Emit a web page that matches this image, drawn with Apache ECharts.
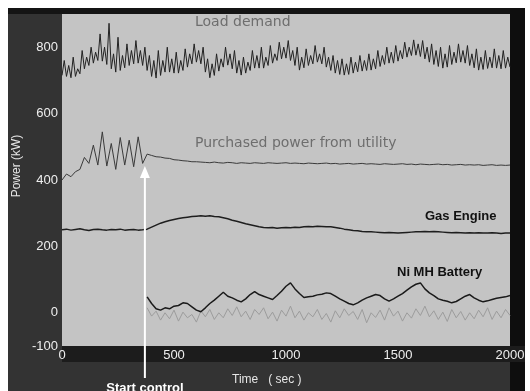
<!DOCTYPE html>
<html>
<head>
<meta charset="utf-8">
<script src="https://cdn.jsdelivr.net/npm/echarts@6/dist/echarts.min.js"></script>
<style>
  html, body { margin: 0; padding: 0; background: #fff; }
  #chart { width: 530px; height: 391px; }
</style>
</head>
<body>
<div id="chart"></div>
<script>
  // time axis (sec)
  const loadStep = 10;
  const stepTwenty = 20;
  const controlStart = 380;     // first sample after control starts
  const startControlTime = 370; // arrow position

  // Load demand, every 10 s from 0 to 2000
  const loadDemand = [
    715, 760, 712, 745, 708, 770, 712, 735, 720, 790, 735, 770, 745, 800, 752, 785, 760, 840, 758, 800,
    748, 872, 735, 780, 725, 830, 730, 775, 738, 810, 745, 790, 750, 820, 752, 790, 745, 800, 730, 775,
    712, 760, 707, 790, 715, 760, 725, 800, 725, 765, 722, 785, 722, 760, 730, 795, 740, 780, 750, 810,
    755, 790, 750, 800, 725, 765, 708, 750, 715, 780, 728, 765, 740, 800, 746, 780, 735, 790, 722, 760,
    716, 770, 722, 755, 730, 790, 737, 775, 737, 800, 737, 770, 745, 805, 752, 780, 760, 815, 765, 800,
    767, 820, 760, 790, 745, 800, 731, 770, 738, 795, 745, 775, 750, 805, 755, 780, 750, 800, 740, 770,
    730, 775, 722, 760, 718, 765, 716, 750, 718, 770, 722, 755, 726, 775, 728, 760, 730, 780, 731, 765,
    735, 790, 742, 775, 748, 800, 752, 785, 752, 805, 758, 790, 765, 815, 770, 800, 775, 822, 776, 810,
    772, 820, 765, 800, 755, 810, 748, 790, 742, 800, 737, 780, 740, 805, 748, 785, 753, 810, 755, 790,
    752, 805, 745, 780, 738, 795, 731, 770, 733, 790, 736, 770, 738, 795, 737, 775, 735, 790, 737, 770,
    740
  ];

  // Purchased power from utility, every 20 s from 0 to 2000
  const purchasedPower = [
    400, 418, 410, 425, 432, 468, 450, 505, 445, 545, 442, 510, 432, 528, 445, 520, 440, 530, 450, 478,
    474, 470, 469, 466, 465, 461, 460, 458, 457, 455, 455, 454, 453, 452, 454, 452, 451, 453, 452, 450,
    452, 451, 450, 452, 451, 450, 452, 451, 450, 451, 452, 450, 451, 450, 449, 451, 450, 449, 450, 451,
    449, 450, 448, 449, 450, 448, 449, 450, 448, 449, 448, 447, 449, 448, 447, 448, 449, 447, 448, 446,
    448, 447, 446, 447, 448, 446, 447, 445, 446, 447, 445, 446, 445, 446, 444, 445, 446, 444, 445, 444,
    445
  ];

  // Gas engine, every 20 s from 0 to 2000
  const gasEngine = [
    250, 252, 249, 251, 253, 250, 248, 251, 252, 250, 249, 251, 250, 252, 249, 250, 251, 249, 250, 252,
    258, 264, 270, 274, 278, 281, 284, 286, 288, 290, 291, 292, 291, 292, 290, 289, 286, 283, 279, 276,
    272, 268, 265, 262, 259, 257, 256, 257, 255, 256, 257, 256, 258, 257, 259, 260, 259, 261, 260, 259,
    259, 257, 255, 252, 250, 248, 247, 245, 244, 244, 243, 242, 241, 242, 241, 240, 241, 242, 243, 244,
    244, 245, 244, 245, 244, 243, 242, 241, 242, 241, 240, 241, 240, 241, 240, 240, 241, 240, 239, 240,
    240
  ];

  // Ni MH battery, every 20 s from 380 to 2000
  const battery = [
    48, 28, 12, 8, 15, 12, 20, 22, 30, 28, 18, 8, 3, 15, 28, 38, 50, 62, 50, 45,
    38, 33, 42, 55, 64, 55, 50, 45, 40, 52, 65, 80, 90, 72, 58, 46, 48, 50, 54, 56,
    60, 58, 50, 42, 35, 28, 24, 30, 38, 45, 50, 55, 52, 42, 35, 42, 50, 58, 68, 78,
    86, 90, 72, 60, 52, 42, 38, 35, 30, 34, 42, 50, 55, 45, 38, 33, 36, 40, 44, 46,
    48, 52
  ];

  // light grey trace under the battery, every 20 s from 380 to 2000
  const otherSource = [
    15, -10, 5, -22, 0, -18, 8, -25, 2, -15, -5, -28, 6, -12, 10, -20, 0, -15, 12, -8,
    18, -12, 5, -20, 10, -5, 15, -18, 2, -25, 8, -10, 20, -15, 5, -22, 0, -12, 10, -20,
    -2, -28, 6, -15, 12, -8, 4, -20, 10, -30, 0, -14, 8, -22, 15, -10, 5, -25, 0, -16,
    12, -8, 20, -12, 6, -20, 2, -26, 10, -15, 4, -22, 0, -18, 8, -12, 15, -20, 5, -15,
    10, -8
  ];

  const yLabels = [-100, 0, 200, 400, 600, 800];

  function withTime(values, t0, step) {
    return values.map(function (v, i) { return [t0 + i * step, v]; });
  }

  const chart = echarts.init(document.getElementById('chart'));

  function lineSeries(name, data, color, width) {
    return {
      name: name,
      type: 'line',
      data: data,
      symbol: 'none',
      silent: true,
      animation: false,
      lineStyle: { color: color, width: width }
    };
  }

  chart.setOption({
    backgroundColor: '#fff',
    animation: false,
    grid: {
      left: 62, right: 20, top: 14, bottom: 45,
      show: true,
      backgroundColor: '#c4c4c4',
      borderWidth: 0
    },
    xAxis: {
      type: 'value',
      min: 0, max: 2000, interval: 500,
      axisLine: { show: false },
      axisTick: { show: false },
      splitLine: { show: false },
      axisLabel: {
        color: '#eeeeee',
        fontFamily: 'Liberation Sans, Arial',
        fontSize: 13,
        margin: 3,
        formatter: function (v) { return String(v); }
      }
    },
    yAxis: {
      type: 'value',
      min: -100, max: 900, interval: 100,
      axisLine: { show: false },
      axisTick: { show: false },
      splitLine: { show: false },
      axisLabel: {
        color: '#eeeeee',
        fontFamily: 'Liberation Sans, Arial',
        fontSize: 13,
        margin: 4,
        formatter: function (v) {
          return yLabels.indexOf(v) >= 0 ? String(v) : '';
        }
      }
    },
    series: [
      lineSeries('SOFC', withTime(otherSource, controlStart, stepTwenty), '#9c9c9c', 1),
      lineSeries('Load demand', withTime(loadDemand, 0, loadStep), '#222222', 1),
      lineSeries('Purchased power from utility', withTime(purchasedPower, 0, stepTwenty), '#3a3a3a', 1),
      lineSeries('Gas Engine', withTime(gasEngine, 0, stepTwenty), '#1e1e1e', 1.5),
      lineSeries('Ni MH Battery', withTime(battery, controlStart, stepTwenty), '#1a1a1a', 1.5)
    ]
  });

  // frame, annotations and start-control arrow
  const arrowX = chart.convertToPixel({ gridIndex: 0 }, [startControlTime, 0])[0];
  const arrowTip = chart.convertToPixel({ gridIndex: 0 }, [0, 460])[1] + 6;

  chart.setOption({
    graphic: [
      { type: 'rect', z: -10, shape: { x: 8, y: 8, width: 517, height: 383 }, style: { fill: '#333333' } },
      { type: 'rect', z: -9, shape: { x: 8, y: 8, width: 517, height: 6 }, style: { fill: '#141414' } },
      { type: 'rect', z: -9, shape: { x: 510, y: 8, width: 15, height: 383 }, style: { fill: '#0e0e0e' } },
      { type: 'rect', z: -9, shape: { x: 62, y: 346, width: 463, height: 16 }, style: { fill: '#1c1c1c' } },
      {
        type: 'text', z: 10, x: 17, y: 166, rotation: Math.PI / 2,
        style: { text: 'Power (kW)', fill: '#e6e6e6', font: '12px "Liberation Sans", Arial', align: 'center', verticalAlign: 'middle' }
      },
      {
        type: 'text', z: 10, x: 232, y: 380,
        style: { text: 'Time   ( sec )', fill: '#e6e6e6', font: '12px "Liberation Sans", Arial', verticalAlign: 'middle' }
      },
      {
        type: 'text', z: 10, x: arrowX, y: 388,
        style: { text: 'Start control', fill: '#ffffff', font: 'bold 13px "Liberation Sans", Arial', align: 'center', verticalAlign: 'middle' }
      },
      {
        type: 'line', z: 10,
        shape: { x1: arrowX, y1: arrowTip + 10, x2: arrowX, y2: 378 },
        style: { stroke: '#ffffff', lineWidth: 2 }
      },
      {
        type: 'polygon', z: 10,
        shape: { points: [[arrowX, arrowTip], [arrowX - 5, arrowTip + 12], [arrowX + 5, arrowTip + 12]] },
        style: { fill: '#ffffff' }
      },
      {
        type: 'text', z: 10, x: 195, y: 22,
        style: { text: 'Load demand', fill: '#6e6e6e', font: '14px "DejaVu Sans", sans-serif', verticalAlign: 'middle' }
      },
      {
        type: 'text', z: 10, x: 195, y: 143,
        style: { text: 'Purchased power from utility', fill: '#6e6e6e', font: '14px "DejaVu Sans", sans-serif', verticalAlign: 'middle' }
      },
      {
        type: 'text', z: 10, x: 425, y: 216,
        style: { text: 'Gas Engine', fill: '#111111', font: 'bold 13px "Liberation Sans", Arial', verticalAlign: 'middle' }
      },
      {
        type: 'text', z: 10, x: 397, y: 272,
        style: { text: 'Ni MH Battery', fill: '#111111', font: 'bold 13px "Liberation Sans", Arial', verticalAlign: 'middle' }
      }
    ]
  });
</script>
</body>
</html>
